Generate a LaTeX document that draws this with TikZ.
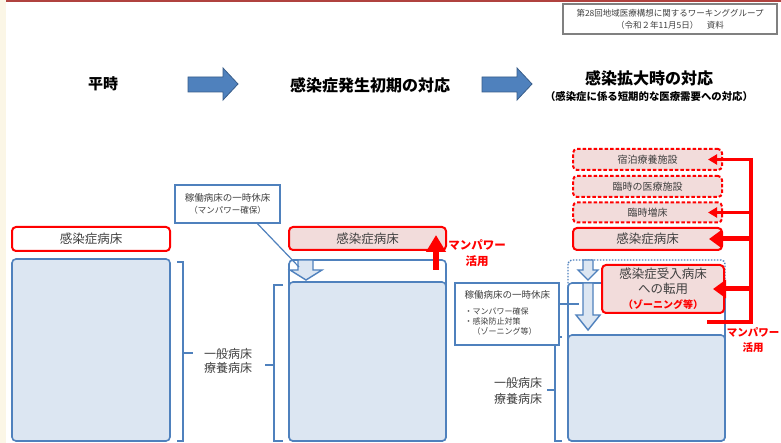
\documentclass[tikz,border=0pt]{standalone}
\usepackage{fontspec}
\setmainfont{Noto Sans CJK JP}
\usetikzlibrary{arrows.meta}
\definecolor{frameblue}{HTML}{4F81BD}
\definecolor{fillblue}{HTML}{DCE6F2}
\definecolor{arrowedge}{HTML}{385D8A}
\definecolor{pinkfill}{HTML}{F2DCDB}
\definecolor{textgray}{HTML}{404040}
\definecolor{topline}{HTML}{B0423F}
\definecolor{cream}{HTML}{FBF6E6}
\begin{document}
\begin{tikzpicture}[x=1pt, y=-1pt,
    box/.style={rectangle, rounded corners=4pt, inner sep=0pt, line width=1.6pt, text=textgray},
    bluebox/.style={box, draw=frameblue, fill=fillblue},
    framebox/.style={box, draw=frameblue, fill=white},
    redbox/.style={box, draw=red, fill=white, line width=2pt},
    pinkbox/.style={redbox, fill=pinkfill},
    dashbox/.style={pinkbox, dash pattern=on 3.5pt off 2pt},
    callout/.style={rectangle, draw=frameblue, fill=white, line width=1.4pt, inner sep=0pt, text=textgray},
    bedtext/.style={font=\fontsize{12.5}{14}\selectfont},
    sidetext/.style={text=textgray, align=center, font=\fontsize{12}{14}\selectfont},
    redlabel/.style={text=red, align=center, font=\bfseries\fontsize{11.5}{16}\selectfont},
    hdrarrow/.style={fill=frameblue, draw=arrowedge, line width=0.8pt},
    downarrow/.style={fill=fillblue, draw=frameblue, line width=1.4pt},
    bracketline/.style={draw=frameblue, line width=1.4pt},
    powerline/.style={draw=red, line width=4.5pt},
    thinpower/.style={draw=red, line width=2.5pt, -{Triangle[width=10pt, length=9pt]}},
    thickpower/.style={draw=red, line width=5pt, -{Triangle[width=18pt, length=13pt]}}]
    \useasboundingbox (0,0) rectangle (781,443);
    \fill[white] (0,0) rectangle (781,443);
    \fill[cream] (0,0) rectangle (6,443);
    \fill[topline] (6,0) rectangle (781,2.5);
    % ── source note ──────────────────────────
    \node[draw=gray, line width=1.2pt, fill=white, minimum width=214, minimum height=30, inner sep=0pt,
          align=center, font=\fontsize{8.5}{12}\selectfont, text=textgray] (source) at (670,19)
        {第28回地域医療構想に関するワーキンググループ\\（令和２年11月5日）　資料};
    % ── headings ──────────────────────────
    \node[font=\bfseries\fontsize{15}{17}\selectfont] (usual) at (103,84) {平時};
    \node[font=\bfseries\fontsize{16}{18}\selectfont] (early) at (370,85) {感染症発生初期の対応};
    \node[font=\bfseries\fontsize{16}{18}\selectfont] (spread) at (649,78) {感染拡大時の対応};
    \node[font=\bfseries\fontsize{10.4}{12}\selectfont] (spreadsub) at (649,97) {（感染症に係る短期的な医療需要への対応）};
    \draw[hdrarrow] (188,77) -- (223,77) -- (223,68) -- (238,84) -- (223,100) -- (223,92) -- (188,92) -- cycle;
    \draw[hdrarrow] (482,77) -- (517,77) -- (517,68) -- (532,84) -- (517,100) -- (517,92) -- (482,92) -- cycle;
    % ── (a) usual ──────────────────────────
    \node[redbox, minimum width=158, minimum height=24, bedtext] (infa) at (91,239) {感染症病床};
    \node[bluebox, minimum width=158, minimum height=182] (genera) at (91,350) {};
    \draw[bracketline] (177,262) -- (183,262) -- (183,441) -- (177,441);
    \draw[bracketline] (183,353) -- (193,353);
    \node[sidetext] (generalabel) at (228,361) {一般病床\\療養病床};
    % ── (b) early ──────────────────────────
    \draw[bracketline] (283,285) -- (274,285) -- (274,441) -- (283,441);
    \draw[bracketline] (274,365) -- (265,365);
    \node[pinkbox, minimum width=157, minimum height=23, bedtext] (infb) at (367.5,238.5) {感染症病床};
    \node[framebox, minimum width=157, minimum height=181] (frameb) at (367.5,350.5) {};
    \node[bluebox, minimum width=157, minimum height=159] (generb) at (367.5,361.5) {};
    \draw[downarrow] (298,260) -- (313,260) -- (313,270) -- (322,270) -- (306,280) -- (290,270) -- (298,270) -- cycle;
    \coordinate (arrowb) at (299,267);
    \node[callout, minimum width=105, minimum height=38, align=center,
          font=\fontsize{9.5}{12}\selectfont] (restb) at (227.5,204)
        {稼働病床の一時休床\\{\fontsize{8.5}{10}\selectfont（マンパワー確保）}};
    \draw[frameblue, line width=1.2pt] ([xshift=30pt]restb.south) -- (arrowb);
    \coordinate (upfrom) at (436,270);
    \coordinate (upto) at (436,235);
    \draw[red, line width=6pt, -{Triangle[width=19pt, length=17pt]}] (upfrom) -- (upto);
    \node[redlabel] (powerb) at (477,253) {マンパワー\\活用};
    % ── (c) spread ──────────────────────────
    \draw[bracketline] (562,337) -- (555,337) -- (555,441) -- (562,441);
    \draw[bracketline] (555,390) -- (547,390);
    \node[sidetext, font=\fontsize{12}{16}\selectfont] (generclabel) at (518,391) {一般病床\\療養病床};
    \draw[frameblue, line width=1.4pt, dash pattern=on 1.5pt off 1.5pt, rounded corners=4pt, fill=white]
        (568,260) rectangle (725,441);
    \node[framebox, minimum width=157, minimum height=158] (framec) at (646.5,362) {};
    \node[bluebox, minimum width=157, minimum height=106] (generc) at (646.5,388) {};
    \draw[downarrow] (583,260) -- (593,260) -- (593,270) -- (598,270) -- (588,280) -- (578,270) -- (583,270) -- cycle;
    \draw[downarrow] (583,283) -- (593,283) -- (593,315) -- (600,315) -- (588,330) -- (576,315) -- (583,315) -- cycle;
    \coordinate (arrowc) at (579,304);
    \node[pinkbox, minimum width=122, minimum height=48, align=center,
          font=\fontsize{12.5}{15}\selectfont] (convert) at (663,289)
        {感染症受入病床\\への転用\\{\color{red}\bfseries\fontsize{10}{12}\selectfont（ゾーニング等）}};
    \node[callout, minimum width=104, minimum height=62] (restc) at (507,314) {};
    \node[anchor=west, text=textgray, font=\fontsize{9.5}{11}\selectfont] (restctitle) at (461,295) {稼働病床の一時休床};
    \node[anchor=west, text=textgray, align=left, font=\fontsize{8}{10}\selectfont] (restcitems) at (461,322)
        {・マンパワー確保\\・感染防止対策\\\hspace{8pt}（ゾーニング等）};
    \draw[frameblue, line width=1.2pt] ([yshift=10pt]restc.east) -- (arrowc);
    \node[dashbox, minimum width=149, minimum height=21, font=\fontsize{10}{12}\selectfont] (hotel) at (647.5,159.5) {宿泊療養施設};
    \node[dashbox, minimum width=149, minimum height=21, font=\fontsize{10}{12}\selectfont] (tempfac) at (647.5,186.5) {臨時の医療施設};
    \node[dashbox, minimum width=149, minimum height=20, font=\fontsize{10}{12}\selectfont] (extra) at (647.5,212.5) {臨時増床};
    \node[pinkbox, minimum width=149, minimum height=22, bedtext] (infc) at (647.5,239) {感染症病床};
    \coordinate (trunktop) at (751,158);
    \coordinate (trunkend) at (751,322);
    \coordinate (trunkfoot) at (707,322);
    \draw[powerline, line join=miter] (trunktop) -- (trunkend) -- (trunkfoot);
    \draw[thinpower] (hotel.east -| trunkend) -- ([xshift=-15pt]hotel.east);
    \draw[thinpower] (extra.east -| trunkend) -- ([xshift=-15pt]extra.east);
    \draw[thickpower] (infc.east -| trunkend) -- ([xshift=-14pt]infc.east);
    \draw[thickpower] (convert.east -| trunkend) -- ([xshift=-12pt]convert.east);
    \node[redlabel, font=\bfseries\fontsize{10.5}{15}\selectfont, inner sep=0pt] (powerc) at (753,340) {マンパワー\\活用};
\end{tikzpicture}
\end{document}
